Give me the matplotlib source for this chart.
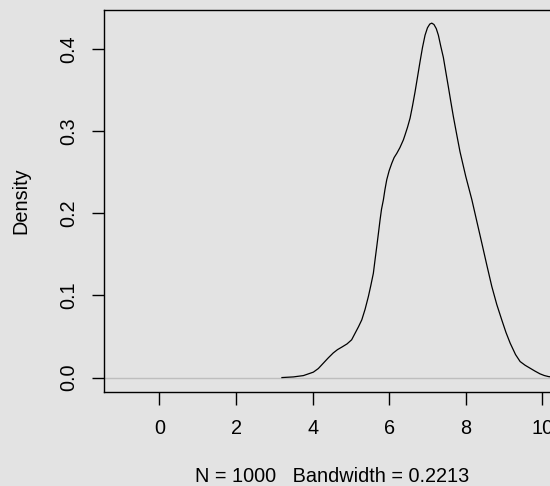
import matplotlib
matplotlib.use("Agg")
import matplotlib.pyplot as plt

plt.rcParams['font.family'] = ['Liberation Sans', 'DejaVu Sans']

# density curve
dens_x = [3.2, 3.5, 3.76, 4.02, 4.15, 4.28, 4.41, 4.54, 4.65, 4.76, 4.9, 5.02,
          5.11, 5.2, 5.285, 5.37, 5.457, 5.52, 5.587, 5.63, 5.676, 5.72, 5.762, 5.8,
          5.849, 5.89, 5.937, 6.0, 6.068, 6.13, 6.198, 6.28, 6.371, 6.415, 6.48, 6.546,
          6.61, 6.676, 6.74, 6.807, 6.87, 6.937, 7.0, 7.06, 7.112, 7.17, 7.23, 7.285,
          7.35, 7.415, 7.48, 7.546, 7.61, 7.676, 7.76, 7.85, 8.0, 8.16, 8.3, 8.42,
          8.55, 8.68, 8.81, 8.94, 9.05, 9.16, 9.3, 9.42, 9.55, 9.68, 9.81, 9.94,
          10.05, 10.16, 10.3, 10.44]
dens_y = [0.0, 0.0008, 0.0024, 0.0066, 0.011, 0.0175, 0.024, 0.030, 0.034, 0.037, 0.041, 0.046,
          0.054, 0.062, 0.0703, 0.083, 0.0987, 0.112, 0.127, 0.143, 0.1596, 0.176, 0.192, 0.205,
          0.2165, 0.229, 0.241, 0.252, 0.261, 0.268, 0.273, 0.280, 0.2895, 0.2956, 0.305, 0.316,
          0.331, 0.348, 0.366, 0.385, 0.402, 0.417, 0.426, 0.4305, 0.4317, 0.430, 0.425, 0.417,
          0.403, 0.39, 0.372, 0.354, 0.336, 0.318, 0.297, 0.275, 0.245, 0.2165, 0.188, 0.1637,
          0.137, 0.111, 0.089, 0.0703, 0.055, 0.0419, 0.028, 0.0195, 0.015, 0.0114, 0.0078, 0.0045,
          0.0025, 0.0012, 0.0004, 0.0001]

x_ticks = [0, 2, 4, 6, 8, 10]
y_ticks = [0.0, 0.1, 0.2, 0.3, 0.4]
y_tick_labels = ["0.0", "0.1", "0.2", "0.3", "0.4"]

bg = "#e3e3e3"
fig = plt.figure(figsize=(5.5, 4.86), dpi=100, facecolor=bg)
# axes run past the right edge, like the R device crop
ax = fig.add_axes([0.1896, 0.194, 0.8271, 0.7863])
ax.set_facecolor(bg)

ax.axhline(0, color="#bebebe", lw=1.0, zorder=1)
ax.plot(dens_x, dens_y, color="black", lw=0.9, zorder=2)

ax.set_xlim(-1.44, 10.44)
ax.set_ylim(-0.01724, 0.4482)

ax.set_xticks(x_ticks)
ax.set_yticks(y_ticks)
ax.set_yticklabels(y_tick_labels, rotation=90, va="center")
ax.tick_params(axis="both", direction="out", length=9, width=1.0,
               labelsize=14.3, colors="black")
ax.tick_params(axis="x", pad=11)
ax.tick_params(axis="y", pad=10)

for s in ["left", "top", "bottom"]:
    ax.spines[s].set_linewidth(1.0)
    ax.spines[s].set_color("black")
ax.spines["right"].set_visible(False)

ax.set_xlabel("N = 1000   Bandwidth = 0.2213", fontsize=14.3, va="center")
ax.xaxis.set_label_coords(0.5, -0.2224)
ax.set_ylabel("Density", fontsize=14.3, va="center")
ax.yaxis.set_label_coords(-0.183, 0.5)

fig.savefig("out.png", dpi=100, facecolor=bg)
